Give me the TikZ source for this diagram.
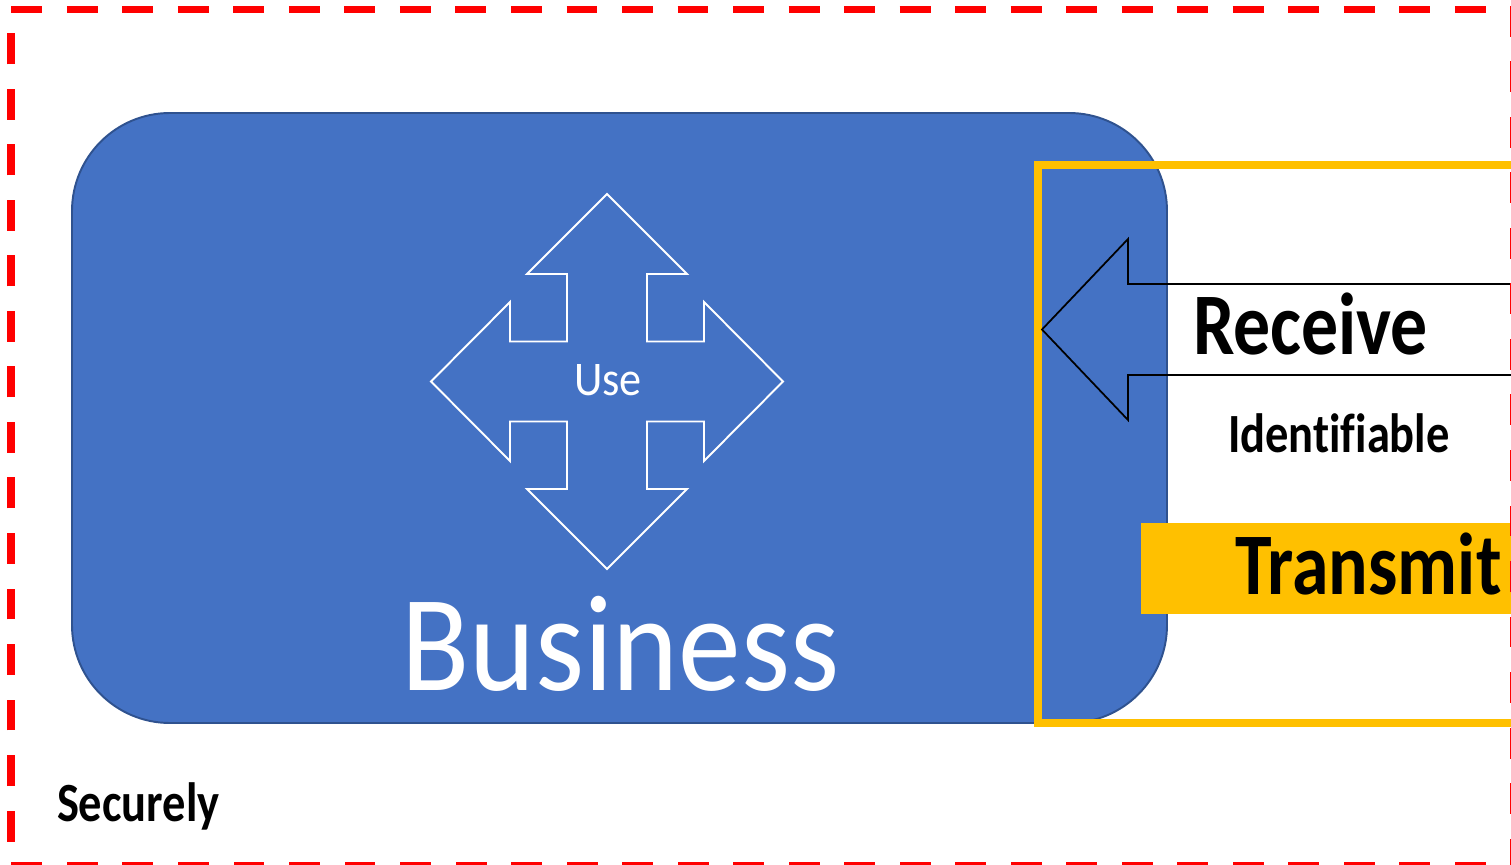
\documentclass[tikz,border=0pt]{standalone}
\usepackage{fontspec}
\setmainfont{Carlito}
\newfontfamily\tagfont[FakeStretch=0.84, Ligatures=NoCommon]{Carlito}
\newfontfamily\thinfont[FakeStretch=0.915]{Carlito}
\usetikzlibrary{
    calc,
    positioning
}
\definecolor{bizblue}{HTML}{4472C4}
\definecolor{bizedge}{HTML}{2F528F}
\definecolor{gold}{HTML}{FFC000}
\definecolor{alarmred}{HTML}{FF0000}
\tikzset{
    perimeter/.style={draw=alarmred, line width=4.5pt, dash pattern=on 17.6pt off 14pt},
    bizpanel/.style={draw=bizedge, fill=bizblue, line width=1.1pt, rounded corners=1.96cm},
    goldframe/.style={draw=gold, line width=4.5pt},
    goldbar/.style={fill=gold},
    inarrow/.style={draw=black, line width=1pt, line join=miter},
    quadarrow/.style={draw=white, line width=1.1pt, line join=miter},
    word/.style={anchor=base west, inner sep=0pt, outer sep=0pt},
    bigtag/.style={word, font=\tagfont\bfseries\fontsize{50}{60}\selectfont},
    smalltag/.style={word, font=\tagfont\bfseries\fontsize{31.5}{38}\selectfont},
    whitetag/.style={word, text=white}
}

\begin{document}
\begin{tikzpicture}[x=0.02cm, y=-0.02cm]
    \useasboundingbox (0,0) rectangle (1511,865);
    \draw[bizpanel] (72,113) rectangle (1167,723);
    \draw[goldframe] (1511,165) -- (1038,165) -- (1038,723) -- (1511,723);
    \fill[goldbar] (1141,523) rectangle (1511,614);
    % four-way arrow
    \draw[quadarrow, shift={(607,381.5)}]
        (0,-187.5) -- (80,-107.5) -- (40,-107.5) -- (40,-40) -- (97,-40) -- (97,-79.5)
        -- (176,0) -- (97,79.5) -- (97,40) -- (40,40) -- (40,107.5) -- (80,107.5)
        -- (0,187.5) -- (-80,107.5) -- (-40,107.5) -- (-40,40) -- (-97,40) -- (-97,79.5)
        -- (-176,0) -- (-97,-79.5) -- (-97,-40) -- (-40,-40) -- (-40,-107.5) -- (-80,-107.5) -- cycle;
    % incoming arrow
    \draw[inarrow] (1511,284) -- (1128,284) -- (1128,239) -- (1042,329.5)
        -- (1128,420) -- (1128,375) -- (1511,375);
    \node[whitetag, font=\thinfont\fontsize{27.5}{33}\selectfont] (use) at (574,395) {Use};
    \node[whitetag, font=\thinfont\fontsize{78}{93}\selectfont] (business) at (401,690) {Business};
    \node[bigtag] (receive) at (1193,354) {Receive};
    \node[smalltag] (identifiable) at (1228,452) {Identifiable};
    \node[bigtag] (transmit) at (1235,594) {Transmit};
    \node[smalltag] (securely) at (57,821) {Securely};
    \draw[perimeter] (11.3,9.5) -- (1514,9.5) -- (1514,866) -- (11.3,866) -- cycle;
\end{tikzpicture}
\end{document}
